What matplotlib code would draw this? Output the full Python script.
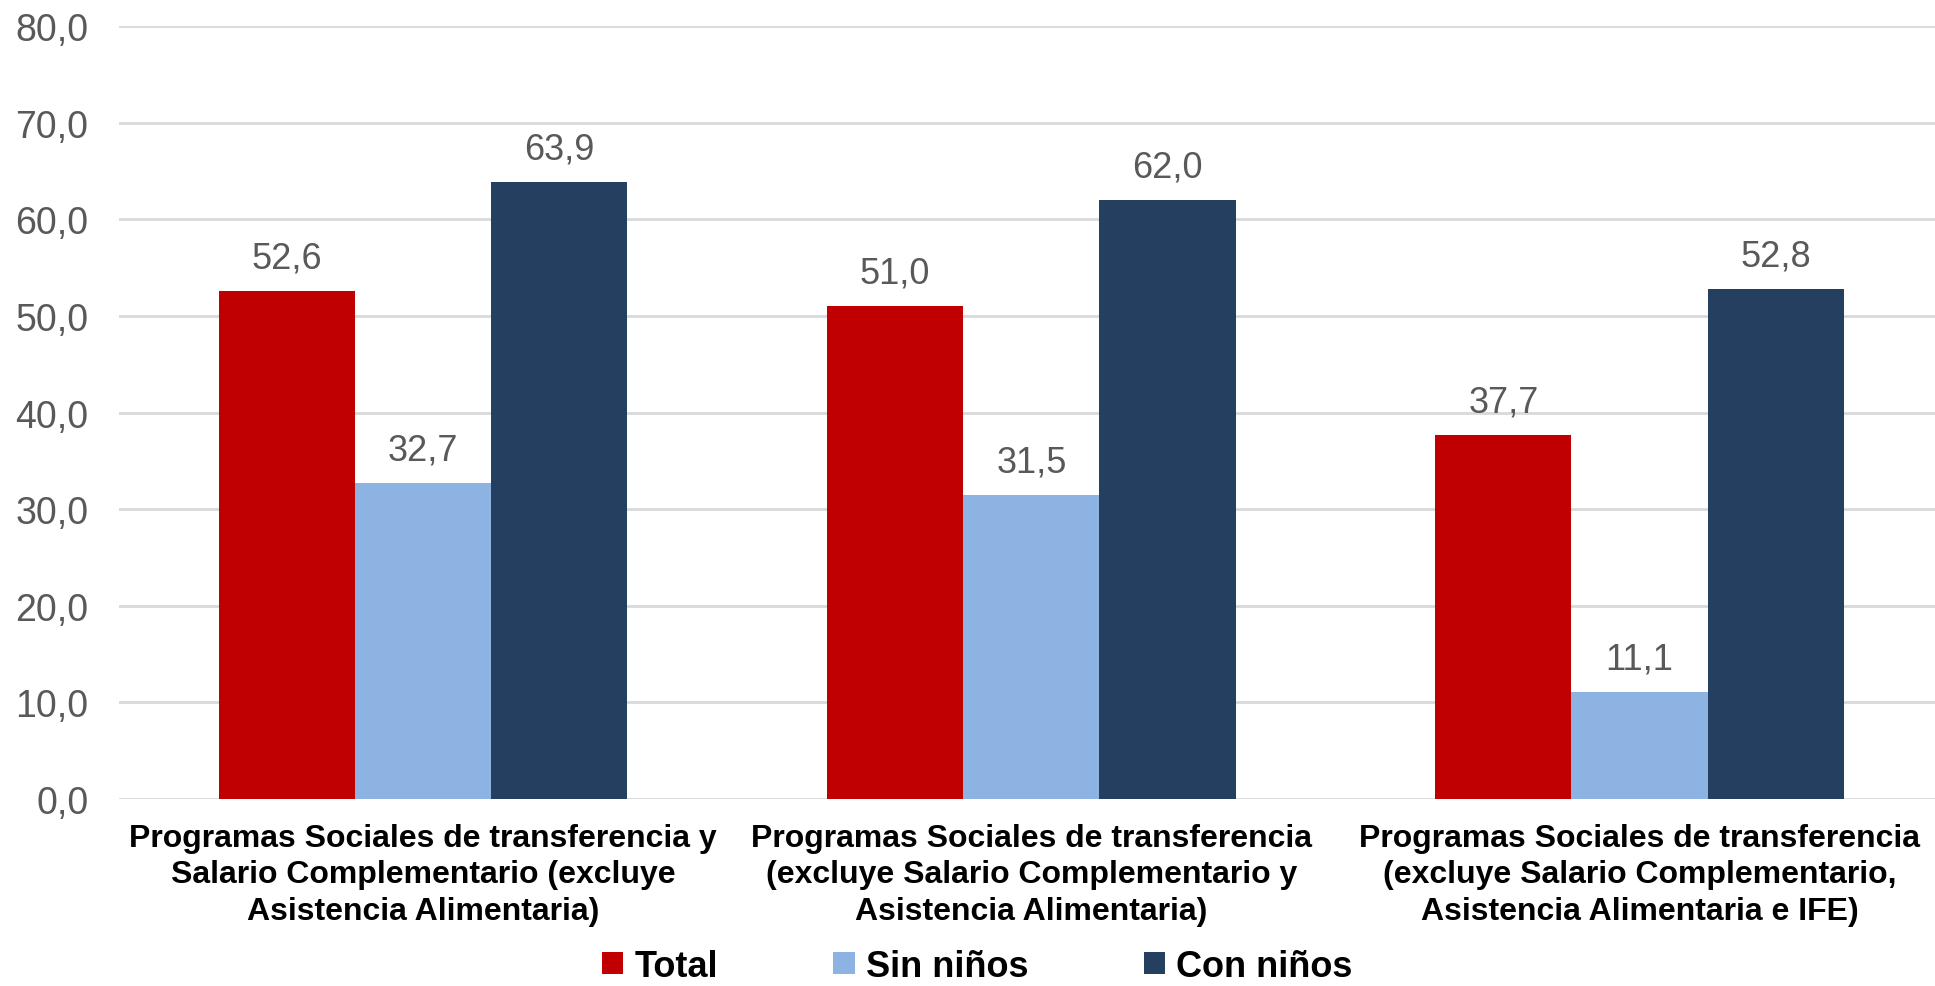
import matplotlib
matplotlib.use("Agg")
import matplotlib.pyplot as plt
from matplotlib.patches import Patch
import numpy as np

categories = [
    "Programas Sociales de transferencia y\nSalario Complementario (excluye\nAsistencia Alimentaria)",
    "Programas Sociales de transferencia\n(excluye Salario Complementario y\nAsistencia Alimentaria)",
    "Programas Sociales de transferencia\n(excluye Salario Complementario,\nAsistencia Alimentaria e IFE)",
]
series_names = ["Total", "Sin niños", "Con niños"]
total = [52.6, 51.0, 37.7]
sin_ninos = [32.7, 31.5, 11.1]
con_ninos = [63.9, 62.0, 52.8]
colors = ["#C00000", "#8DB3E2", "#243F60"]
yticks = [0, 10, 20, 30, 40, 50, 60, 70, 80]

narrow = ["Liberation Sans Narrow", "Liberation Sans", "DejaVu Sans"]
regular = ["Liberation Sans", "DejaVu Sans"]

fig = plt.figure(figsize=(19.35, 9.87), dpi=100)
ax = fig.add_axes([0.0615, 0.1895, 0.943, 0.7831])

x = np.arange(len(categories))
w = 0.224
for i, (vals, c) in enumerate(zip([total, sin_ninos, con_ninos], colors)):
    bars = ax.bar(x + (i - 1) * w, vals, width=w, color=c, zorder=3)
    for b, v in zip(bars, vals):
        ax.annotate(f"{v:.1f}".replace(".", ","), (b.get_x() + b.get_width() / 2, v),
                    xytext=(0, 11), textcoords="offset points", ha="center", va="bottom",
                    fontsize=26, color="#595959", family=regular)

ax.set_xlim(-0.5, len(categories) - 0.5)
ax.set_ylim(0, 80)
ax.set_yticks(yticks)
ax.set_yticklabels([f"{t:.1f}".replace(".", ",") for t in yticks], fontsize=27,
                   color="#595959", family=regular)
ax.set_xticks(x)
ax.set_xticklabels(categories, fontsize=23, fontweight="bold", family=narrow,
                   linespacing=1.3)
ax.tick_params(axis="y", length=0, pad=22)
ax.tick_params(axis="x", length=0, pad=17)
ax.grid(axis="y", color="#D9D9D9", linewidth=2, zorder=0)
for s in ["top", "right", "left", "bottom"]:
    ax.spines[s].set_visible(False)

handles = [Patch(facecolor=c, edgecolor="none") for c in colors]
fig.legend(handles, series_names, loc="center", bbox_to_anchor=(0.505, 0.02),
           ncol=3, frameon=False, prop={"family": narrow, "weight": "bold", "size": 26},
           handlelength=0.6, handleheight=0.6, handletextpad=0.3, columnspacing=3.2,
           borderpad=0.1)

fig.savefig("out.png", dpi=100)
